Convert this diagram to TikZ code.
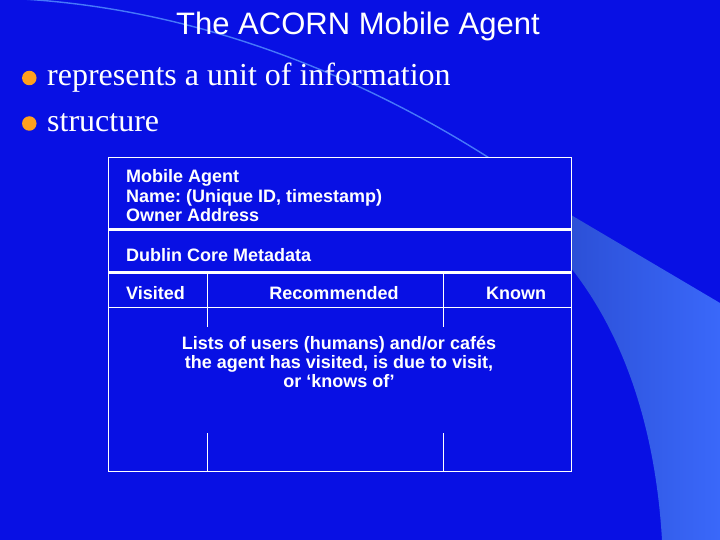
\documentclass[tikz,border=0pt]{standalone}
\usepackage{fontspec}
\setmainfont{Liberation Serif}
\newfontfamily\arialfont{Liberation Sans}
\frenchspacing
\definecolor{bgblue}{RGB}{8,16,228}
\definecolor{swooshlight}{RGB}{58,104,250}
\definecolor{swooshdark}{RGB}{44,80,215}
\definecolor{thinline}{RGB}{70,120,250}
\definecolor{bulletorange}{RGB}{255,160,30}
\tikzset{
  titletext/.style={text=white, inner sep=0pt, font=\arialfont\fontsize{31}{31}\selectfont},
  bullettext/.style={text=white, inner sep=0pt, font=\fontsize{32}{32}\selectfont},
  boxtext/.style={text=white, inner sep=0pt, font=\arialfont\bfseries\fontsize{18}{18}\selectfont},
  bulletdot/.style={circle, fill=bulletorange, minimum size=14.5pt, inner sep=0pt},
  thinrule/.style={draw=white, line width=0.9pt},
  thickrule/.style={draw=white, line width=3.5pt},
}
\begin{document}
\begin{tikzpicture}[x=1pt,y=-1pt]
\useasboundingbox (0,0) rectangle (720,540);
% background
\fill[bgblue] (0,0) rectangle (720,540);
\draw[thinline, line width=1.4pt] (0,-2) .. controls (220,5) and (420,100) .. (571,215);
\shade[left color=swooshdark, right color=swooshlight]
  (571,215) -- (720,303) -- (720,540) -- (662,540)
  .. controls (655,420) and (620,330) .. (571,268) -- cycle;

% title
\node[titletext, anchor=base] (title) at (358,34.5) {The ACORN Mobile Agent};

% bullets
\node[bulletdot] (b1) at (29.3,78) {};
\node[bullettext, anchor=base west] (t1) at (47,86) {represents a unit of information};
\node[bulletdot] (b2) at (29.3,123.5) {};
\node[bullettext, anchor=base west] (t2) at (47,131.7) {structure};

% structure box
\coordinate (tl) at (108,157);
\coordinate (br) at (571.5,471);
\fill[bgblue] (tl) rectangle (br);
\draw[thinrule] (tl) rectangle (br);
\coordinate (s1l) at (108,229.5);
\coordinate (s1r) at (571.5,229.5);
\coordinate (s2l) at (108,272.5);
\coordinate (s2r) at (571.5,272.5);
\coordinate (s3l) at (108,307.5);
\coordinate (s3r) at (571.5,307.5);
\draw[thickrule] (s1l) -- (s1r);
\draw[thickrule] (s2l) -- (s2r);
\draw[thinrule] (s3l) -- (s3r);
\coordinate (v1a) at (207,274);
\coordinate (v1b) at (207,327);
\coordinate (v1c) at (207,433);
\coordinate (v1d) at (207,471);
\coordinate (v2a) at (443,274);
\coordinate (v2b) at (443,327);
\coordinate (v2c) at (443,433);
\coordinate (v2d) at (443,471);
\draw[thinrule] (v1a) -- (v1b) (v1c) -- (v1d);
\draw[thinrule] (v2a) -- (v2b) (v2c) -- (v2d);

\node[boxtext, anchor=base west] (ma) at (126,183) {Mobile Agent};
\node[boxtext, anchor=base west] (nm) at (126,202.5) {Name: (Unique ID, timestamp)};
\node[boxtext, anchor=base west] (oa) at (126,221.5) {Owner Address};
\node[boxtext, anchor=base west] (dc) at (126,261) {Dublin Core Metadata};
\node[boxtext, anchor=base west] (vi) at (126,299.5) {Visited};
\node[boxtext, anchor=base] (re) at (334,299.5) {Recommended};
\node[boxtext, anchor=base] (kn) at (516,299.5) {Known};
\node[boxtext, anchor=base] (l1) at (339,349) {Lists of users (humans) and/or cafés};
\node[boxtext, anchor=base] (l2) at (339,368.3) {the agent has visited, is due to visit,};
\node[boxtext, anchor=base] (l3) at (339,387.5) {or ‘knows of’};
\end{tikzpicture}
\end{document}
